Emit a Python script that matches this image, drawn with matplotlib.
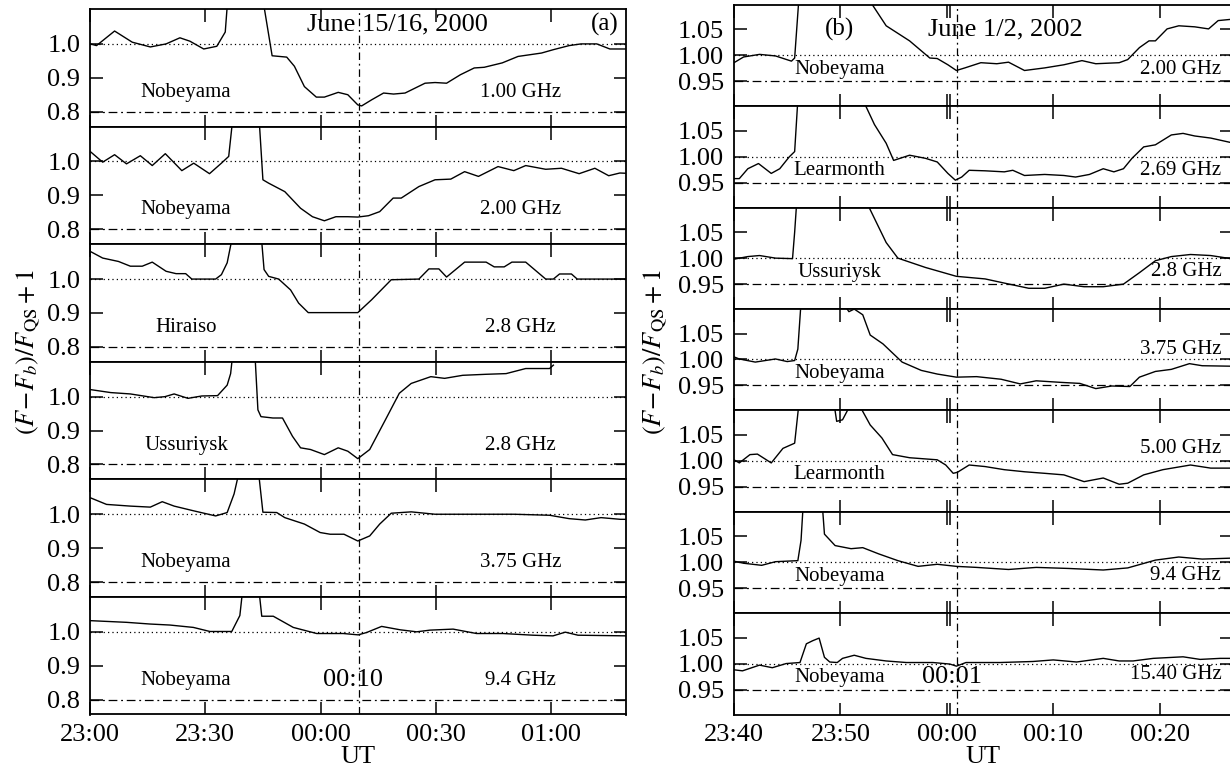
import matplotlib
matplotlib.use("Agg")
import matplotlib.pyplot as plt
from matplotlib.ticker import FixedLocator

plt.rcParams['font.family'] = ['Liberation Serif', 'DejaVu Serif']
plt.rcParams['mathtext.fontset'] = 'stix'

# ---- (a) June 15/16, 2000 : time in minutes after 23:00 ----
a_stations = ['Nobeyama', 'Nobeyama', 'Hiraiso', 'Ussuriysk', 'Nobeyama', 'Nobeyama']
a_freqs = ['1.00 GHz', '2.00 GHz', '2.8 GHz', '2.8 GHz', '3.75 GHz', '9.4 GHz']
a_tick_min = [0, 30, 60, 90, 120]
a_tick_lab = ['23:00', '23:30', '00:00', '00:30', '01:00']

a1_t = [0, 1.7, 6.4, 11, 15.7, 19.8, 23.4, 26, 29.6, 33, 35.2, 35.7, 45.3, 47.4, 51.2, 53.2, 55.8,
        58.9, 61, 64.6, 67.1, 69.7, 70.7, 73.3, 76.4, 79, 82, 87.2, 89.8, 92.8, 96.4, 100, 102.6,
        107.3, 111.4, 117.5, 120.6, 124.7, 127.8, 131.9, 135.3, 140]
a1_v = [1.0, 0.995, 1.038, 1.005, 0.991, 1.0, 1.018, 1.008, 0.985, 0.993, 1.035, 1.11, 1.11, 0.965,
        0.961, 0.934, 0.874, 0.843, 0.843, 0.857, 0.85, 0.82, 0.817, 0.835, 0.855, 0.852, 0.855,
        0.884, 0.886, 0.884, 0.909, 0.929, 0.931, 0.944, 0.963, 0.973, 0.983, 0.995, 1.0, 1.0,
        0.985, 0.985]

a2_t = [0, 3.3, 6.4, 9.5, 13.1, 16.2, 19.6, 23.9, 27.0, 31.1, 34.2, 36.1, 37.0, 44.1, 45.0, 46.5,
        50.7, 54.8, 57.9, 61.0, 64.0, 67.1, 69.7, 72.5, 75.4, 78.9, 81.0, 85.6, 89.8, 93.9, 97.5,
        101.1, 106.2, 110.3, 113.4, 118.6, 122.7, 127.3, 131.4, 135.0, 137.9, 140]
a2_v = [1.03, 0.998, 1.02, 0.993, 1.017, 0.988, 1.023, 0.973, 0.995, 0.964, 0.995, 1.015, 1.11,
        1.11, 0.946, 0.936, 0.911, 0.862, 0.837, 0.825, 0.837, 0.837, 0.836, 0.84, 0.852, 0.892,
        0.892, 0.926, 0.946, 0.948, 0.970, 0.956, 0.985, 0.973, 0.988, 0.977, 0.98, 0.964, 0.98,
        0.958, 0.966, 0.965]

a3_t = [0, 3.3, 7.4, 10.5, 13.6, 16.2, 19.8, 22.4, 24.9, 26.5, 32.7, 34.2, 35.7, 36.8, 44.7, 45.3,
        46.5, 49.1, 52.2, 54.3, 56.8, 69.7, 73.3, 78.4, 85.6, 88.2, 90.8, 92.8, 97.5, 103.1, 105.2,
        107.8, 109.8, 113.4, 118.6, 120.6, 122.2, 125.3, 126.8, 140]
a3_v = [1.082, 1.062, 1.052, 1.038, 1.038, 1.05, 1.023, 1.016, 1.016, 1.0, 1.0, 1.013, 1.048, 1.11,
        1.11, 1.028, 1.008, 1.0, 0.968, 0.929, 0.901, 0.901, 0.939, 0.998, 1.0, 1.03, 1.03, 1.006,
        1.05, 1.05, 1.036, 1.036, 1.05, 1.05, 1.0, 1.0, 1.015, 1.015, 1.0, 1.0]

a4_t = [0, 5.4, 10.5, 16.7, 19.5, 21.9, 25.5, 29.1, 33.2, 35.7, 36.6, 37.0, 43.0, 43.7, 44.5, 47.6,
        50.1, 52.7, 54.8, 57.4, 61.0, 64.6, 67.1, 69.7, 72.8, 76.9, 80.5, 83.6, 88.7, 92.3, 97.0,
        103.1, 108.3, 113.4, 119.6, 120.6]
a4_v = [1.021, 1.012, 1.008, 0.997, 1.0, 1.008, 0.995, 1.002, 1.003, 1.034, 1.068, 1.11, 1.11,
        0.961, 0.941, 0.937, 0.937, 0.883, 0.849, 0.844, 0.829, 0.849, 0.839, 0.817, 0.844, 0.932,
        1.01, 1.039, 1.059, 1.054, 1.063, 1.066, 1.068, 1.083, 1.083, 1.093]

a5_t = [0, 4.3, 10.5, 15.7, 18.8, 21.9, 27.0, 32.7, 35.7, 37.5, 38.5, 44.0, 45.0, 48.6, 50.7, 55.8,
        59.9, 62.5, 66.1, 69.7, 72.8, 75.4, 78.4, 83.6, 89.8, 100, 110.3, 119.6, 124.7, 128.9, 133,
        138, 140]
a5_v = [1.049, 1.029, 1.024, 1.021, 1.037, 1.024, 1.01, 0.995, 1.005, 1.06, 1.11, 1.11, 1.006,
        1.005, 0.99, 0.971, 0.946, 0.941, 0.941, 0.921, 0.936, 0.971, 1.003, 1.007, 1.0, 1.0, 1.0,
        0.997, 0.987, 0.983, 0.99, 0.985, 0.985]

a6_t = [0, 9.5, 15.6, 20.8, 26.9, 31.2, 36.9, 39.0, 39.6, 44.1, 44.7, 47.7, 52.9, 59.0, 65.9, 69.8,
        72.0, 75.9, 80.7, 85.0, 88.5, 94.5, 100.6, 107.5, 115.3, 120.5, 123.7, 127, 140]
a6_v = [1.033, 1.028, 1.023, 1.02, 1.013, 1.001, 1.001, 1.048, 1.11, 1.11, 1.046, 1.046, 1.013,
        0.995, 0.995, 0.991, 0.998, 1.016, 1.006, 1.0, 1.005, 1.008, 0.995, 0.995, 0.99, 0.988,
        0.999, 0.99, 0.988]

# ---- (b) June 1/2, 2002 : time in minutes after 23:40 ----
b_stations = ['Nobeyama', 'Learmonth', 'Ussuriysk', 'Nobeyama', 'Learmonth', 'Nobeyama', 'Nobeyama']
b_freqs = ['2.00 GHz', '2.69 GHz', '2.8 GHz', '3.75 GHz', '5.00 GHz', '9.4 GHz', '15.40 GHz']
b_tick_min = [0, 10, 20, 30, 40]
b_tick_lab = ['23:40', '23:50', '00:00', '00:10', '00:20']

b1_t = [0, 0.9, 2.4, 3.9, 5.4, 5.7, 6.1, 12.6, 14.3, 16.5, 18.4, 19.1, 20.1, 20.9, 21.7, 23.2,
        24.7, 25.8, 27.3, 29.2, 31.0, 32.7, 34.0, 36.2, 37.0, 38.1, 39.0, 39.6, 40.7, 41.8, 43.3,
        44.6, 45.5, 47]
b1_v = [0.986, 0.997, 1.002, 0.999, 0.989, 0.995, 1.11, 1.11, 1.057, 1.028, 0.995, 0.994, 0.982,
        0.971, 0.976, 0.986, 0.984, 0.987, 0.971, 0.976, 0.982, 0.99, 0.984, 0.986, 0.992, 1.015,
        1.028, 1.028, 1.051, 1.057, 1.055, 1.051, 1.067, 1.07]

b2_t = [0, 0.5, 1.3, 2.3, 3.5, 4.3, 5.2, 5.7, 6.0, 12.1, 13.2, 14.3, 15.0, 16.5, 18.0, 19.1, 20.1,
        20.8, 21.4, 22.1, 23.6, 25.4, 26.2, 27.3, 29.2, 31.0, 32.1, 33.4, 34.7, 35.7, 36.6, 37.4,
        38.5, 39.6, 41.1, 42.2, 43.3, 44.8, 47]
b2_v = [0.958, 0.958, 0.977, 0.987, 0.968, 0.977, 1.0, 1.01, 1.11, 1.11, 1.062, 1.026, 0.993,
        1.003, 0.997, 0.99, 0.968, 0.955, 0.961, 0.974, 0.973, 0.971, 0.974, 0.964, 0.966, 0.964,
        0.961, 0.966, 0.977, 0.971, 0.977, 0.997, 1.019, 1.023, 1.042, 1.045, 1.04, 1.036, 1.026]

b3_t = [0, 1.3, 2.4, 3.9, 5.5, 5.7, 5.9, 12.4, 14.3, 15.4, 18.0, 20.9, 23.6, 25.4, 27.7, 29.2,
        31.0, 32.9, 34.7, 36.6, 38.1, 39.6, 41.1, 42.9, 44.8, 47]
b3_v = [0.998, 1.003, 1.005, 1.0, 0.999, 1.05, 1.11, 1.11, 1.03, 1.0, 0.982, 0.965, 0.96, 0.952,
        0.942, 0.942, 0.95, 0.945, 0.945, 0.95, 0.972, 0.995, 1.003, 1.007, 1.005, 0.998]

b4_t = [0, 0.5, 2.0, 3.9, 5.0, 5.7, 6.0, 6.3, 10.2, 10.8, 11.3, 12.1, 12.8, 14.0, 15.8, 17.6, 19.1,
        20.9, 22.8, 25.1, 26.9, 28.4, 30.7, 32.5, 34.0, 35.5, 37.2, 38.1, 39.6, 41.1, 42.8, 44.0, 47]
b4_v = [1.005, 1.001, 0.995, 1.001, 0.996, 0.998, 1.02, 1.11, 1.11, 1.092, 1.097, 1.086, 1.047,
        1.03, 0.995, 0.979, 0.972, 0.966, 0.967, 0.962, 0.953, 0.959, 0.956, 0.954, 0.944, 0.949,
        0.948, 0.966, 0.977, 0.981, 0.992, 0.988, 0.987]

b5_t = [0, 0.5, 1.5, 2.2, 3.5, 4.6, 5.7, 6.1, 9.4, 9.65, 10.2, 11.0, 11.7, 12.8, 13.9, 14.9, 16.5,
        19.1, 19.9, 20.6, 21.0, 22.1, 23.6, 25.4, 27.3, 29.2, 31.0, 32.9, 34.7, 36.2, 37.0, 38.5,
        40.3, 42.9, 44.8, 47]
b5_v = [1.002, 0.996, 1.012, 1.013, 0.996, 1.024, 1.034, 1.11, 1.11, 1.076, 1.079, 1.11, 1.11,
        1.069, 1.044, 1.012, 1.006, 1.002, 0.992, 0.976, 0.978, 0.992, 0.989, 0.983, 0.979, 0.976,
        0.973, 0.96, 0.967, 0.955, 0.957, 0.973, 0.983, 0.992, 0.986, 0.986]

b6_t = [0, 0.9, 2.6, 3.9, 6.0, 6.3, 6.5, 8.3, 8.5, 9.5, 11.0, 12.1, 13.6, 15.4, 17.3, 19.1, 20.9,
        22.8, 25.8, 28.4, 31.4, 34.7, 37.0, 39.6, 41.8, 44.0, 47]
b6_v = [1.002, 0.998, 0.994, 1.001, 1.003, 1.042, 1.11, 1.11, 1.054, 1.032, 1.026, 1.028, 1.016,
        1.003, 0.992, 0.996, 0.992, 0.99, 0.986, 0.99, 0.988, 0.985, 0.989, 1.004, 1.01, 1.006,
        1.008]

b7_t = [0, 0.8, 2.4, 3.6, 4.9, 6.2, 6.3, 6.8, 7.4, 8.0, 8.5, 9.0, 9.7, 10.2, 11.3, 12.4, 14.3,
        16.2, 18.7, 20.3, 20.9, 21.8, 25.0, 28.1, 30.0, 32.2, 34.7, 36.2, 37.5, 39.4, 42.2, 43.8,
        45.7, 47]
b7_v = [0.988, 0.986, 0.997, 0.992, 1.0, 1.002, 1.008, 1.038, 1.044, 1.049, 1.012, 1.003, 1.002,
        1.01, 1.016, 1.01, 1.005, 1.002, 1.002, 0.999, 0.995, 1.002, 1.002, 1.004, 1.007, 1.003,
        1.01, 1.005, 1.005, 1.01, 1.013, 1.008, 1.01, 1.01]

a_series = [(a1_t, a1_v), (a2_t, a2_v), (a3_t, a3_v), (a4_t, a4_v), (a5_t, a5_v), (a6_t, a6_v)]
b_series = [(b1_t, b1_v), (b2_t, b2_v), (b3_t, b3_v), (b4_t, b4_v), (b5_t, b5_v), (b6_t, b6_v),
            (b7_t, b7_v)]
b_freq_y = [0.972, 0.973, 0.974, 1.02, 1.023, 0.975, 0.979]

W, H = 1230, 772
fig = plt.figure(figsize=(W / 100, H / 100), dpi=100)

dot = (0, (1, 2.5))
dashdot = (0, (7, 3, 1.5, 3))
vline = (0, (6, 3, 1.5, 3))
tick_fs = 19
lab_fs = 15

gs_a = fig.add_gridspec(6, 1, left=90 / W, right=626 / W, top=1 - 9 / H, bottom=1 - 714.5 / H,
                        hspace=0)
gs_b = fig.add_gridspec(7, 1, left=734 / W, right=1232 / W, top=1 - 5 / H, bottom=1 - 714.5 / H,
                        hspace=0)


def style(ax, xlim, ylim, yticks, ylabs, xt, xl, last):
    ax.set_xlim(*xlim)
    ax.set_ylim(*ylim)
    ax.set_yticks(yticks)
    ax.set_yticklabels(ylabs)
    ax.set_xticks(xt)
    ax.tick_params(which='both', direction='in', top=True, right=True, length=9, width=1.1,
                   labelsize=tick_fs, pad=7)
    if last:
        ax.set_xticklabels(xl)
        ax.set_xlabel('UT', fontsize=tick_fs, labelpad=0)
    else:
        ax.tick_params(labelbottom=False)
    for s in ax.spines.values():
        s.set_linewidth(1.3)


for i, (t, v) in enumerate(a_series):
    ax = fig.add_subplot(gs_a[i])
    ax.plot(t, v, color='black', lw=1.0)
    ax.axhline(1.0, color='black', lw=0.9, ls=dot)
    ax.axhline(0.8, color='black', lw=0.9, ls=dashdot)
    ax.axvline(70, color='black', lw=0.9, ls=vline)
    style(ax, (0, 139.5), (0.756, 1.103), [0.8, 0.9, 1.0], ['0.8', '0.9', '1.0'],
          a_tick_min, a_tick_lab, i == 5)
    ax.text(25, 0.857, a_stations[i], fontsize=lab_fs, ha='center', va='center')
    ax.text(112, 0.857, a_freqs[i], fontsize=lab_fs, ha='center', va='center')
    if i == 0:
        ax.text(80, 1.058, 'June 15/16, 2000', fontsize=19, ha='center', va='center')
        ax.text(134, 1.058, '(a)', fontsize=18, ha='center', va='center')
    if i == 5:
        ax.text(68.4, 0.857, '00:10', fontsize=19, ha='center', va='center')

for i, (t, v) in enumerate(b_series):
    ax = fig.add_subplot(gs_b[i])
    ax.plot(t, v, color='black', lw=1.0)
    ax.axhline(1.0, color='black', lw=0.9, ls=dot)
    ax.axhline(0.95, color='black', lw=0.9, ls=dashdot)
    ax.axvline(21, color='black', lw=0.9, ls=vline)
    style(ax, (0, 46.8), (0.902, 1.097), [0.95, 1.0, 1.05], ['0.95', '1.00', '1.05'],
          b_tick_min, b_tick_lab, i == 6)
    ax.xaxis.set_minor_locator(FixedLocator([20.3]))
    ax.text(9.9, 0.973, b_stations[i], fontsize=lab_fs, ha='center', va='center')
    ax.text(45.8, b_freq_y[i], b_freqs[i], fontsize=lab_fs, ha='right', va='center')
    if i == 0:
        ax.text(9.9, 1.05, '(b)', fontsize=18, ha='center', va='center')
        ax.text(25.5, 1.05, 'June 1/2, 2002', fontsize=19, ha='center', va='center')
    if i == 6:
        ax.text(20.5, 0.975, '00:01', fontsize=19, ha='center', va='center')

ylab = r'$(F\!-\!F_b)/F_{\mathrm{QS}}+1$'
fig.text(28 / W, 1 - 352 / H, ylab, rotation=90, fontsize=19, ha='center', va='center')
fig.text(655 / W, 1 - 352 / H, ylab, rotation=90, fontsize=19, ha='center', va='center')

fig.savefig('out.png', dpi=100)
